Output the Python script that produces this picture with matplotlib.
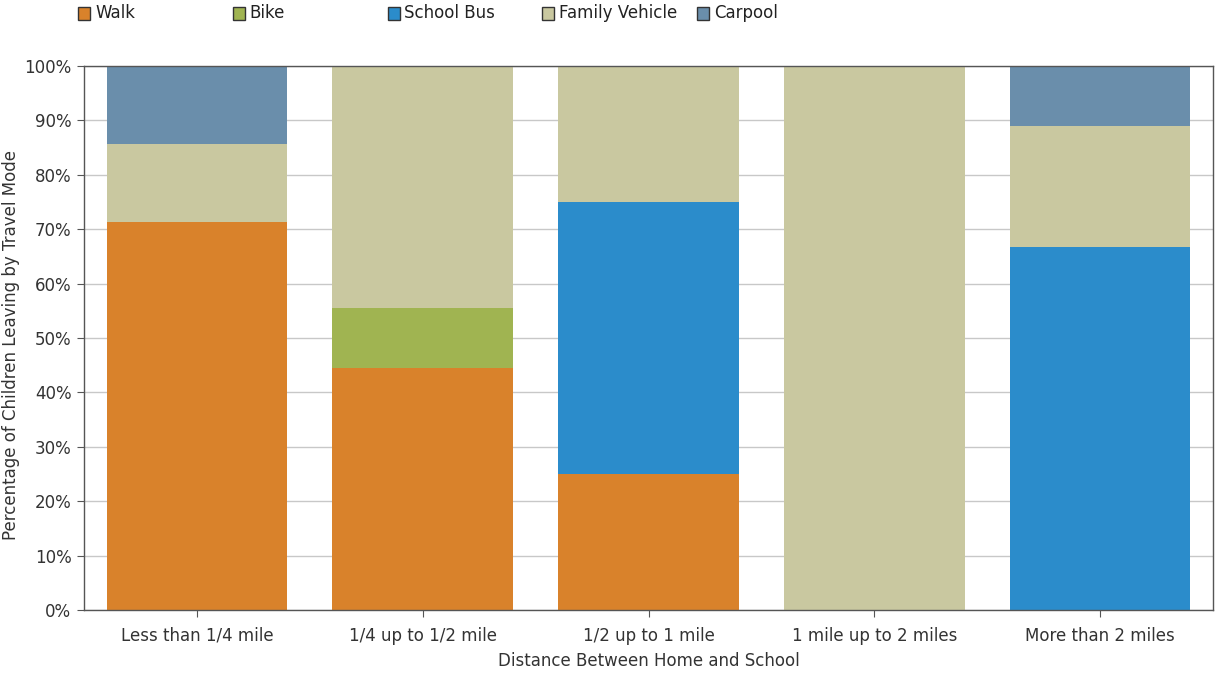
import matplotlib
matplotlib.use("Agg")
import matplotlib.pyplot as plt
from matplotlib.patches import Rectangle
import numpy as np

plt.rcParams['font.family'] = ['DejaVu Sans']

categories = ["Less than 1/4 mile", "1/4 up to 1/2 mile", "1/2 up to 1 mile",
              "1 mile up to 2 miles", "More than 2 miles"]
modes = ["Walk", "Bike", "School Bus", "Family Vehicle", "Carpool"]
walk = [71.4, 44.4, 25.0, 0.0, 0.0]
bike = [0.0, 11.1, 0.0, 0.0, 0.0]
school_bus = [0.0, 0.0, 50.0, 0.0, 66.7]
family_vehicle = [14.3, 44.5, 25.0, 100.0, 22.2]
carpool = [14.3, 0.0, 0.0, 0.0, 11.1]
colors = ["#D9822B", "#A0B451", "#2B8CCB", "#C9C8A0", "#6A8EAB"]
yticks = [0, 10, 20, 30, 40, 50, 60, 70, 80, 90, 100]

series = [walk, bike, school_bus, family_vehicle, carpool]
FS = 12

fig = plt.figure(figsize=(12.19, 6.77), dpi=100)
ax = fig.add_axes([84 / 1219, 1 - 610 / 677, (1213 - 84) / 1219, (610 - 66) / 677])

x = np.arange(len(categories))
bottom = np.zeros(len(categories))
for vals, col in zip(series, colors):
    v = np.array(vals)
    ax.bar(x, v, bottom=bottom, width=0.8, color=col, linewidth=0, zorder=2)
    bottom += v

ax.set_xlim(-0.5, len(categories) - 0.5)
ax.set_ylim(0, 100)
ax.set_yticks(yticks)
ax.set_yticklabels([f"{t}%" for t in yticks])
ax.set_xticks(x)
ax.set_xticklabels(categories)
ax.yaxis.grid(True, color="#C8C8C8", linewidth=1, zorder=0)
ax.set_axisbelow(True)
for s in ax.spines.values():
    s.set_color("#555555")
    s.set_linewidth(1)
ax.tick_params(axis="both", direction="out", length=5, color="#555555",
               labelsize=FS, labelcolor="#333333")
ax.tick_params(axis="x", pad=7)
ax.tick_params(axis="y", pad=4)
ax.set_xlabel("Distance Between Home and School", fontsize=FS, color="#333333", labelpad=5)
ax.set_ylabel("Percentage of Children Leaving by Travel Mode", fontsize=FS,
              color="#333333")
ax.yaxis.set_label_coords(-0.0565, 0.487)

# Legend row across the top
for i, (name, col) in enumerate(zip(modes, colors)):
    px = 78 + 154.75 * i
    fig.patches.append(Rectangle((px / 1219, 1 - 20 / 677), 12 / 1219, 13 / 677,
                                 transform=fig.transFigure, facecolor=col,
                                 edgecolor="#333333", linewidth=1))
    fig.text((px + 17) / 1219, 1 - 13 / 677, name, fontsize=FS, color="#222222",
             va="center", ha="left")

fig.savefig("out.png", dpi=100)
